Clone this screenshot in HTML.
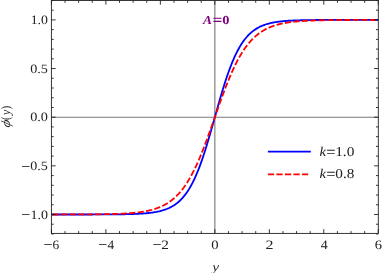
<!DOCTYPE html><html><head><meta charset="utf-8"><style>html,body{margin:0;padding:0;background:#fff;overflow:hidden}svg{display:block;will-change:transform;text-rendering:geometricPrecision}text{font-family:"Liberation Serif",serif;fill:#222}</style></head><body>
<svg width="382" height="273" viewBox="0 0 382 273">
<line x1="51.40" y1="117.20" x2="378.30" y2="117.20" stroke="#777" stroke-width="1.1"/>
<line x1="214.85" y1="0.50" x2="214.85" y2="233.40" stroke="#777" stroke-width="1.1"/>
<path d="M51.41,214.50 L52.23,214.50 L53.04,214.50 L53.86,214.50 L54.68,214.50 L55.50,214.50 L56.31,214.50 L57.13,214.50 L57.95,214.50 L58.76,214.50 L59.58,214.50 L60.40,214.50 L61.22,214.50 L62.03,214.50 L62.85,214.50 L63.67,214.50 L64.49,214.50 L65.30,214.50 L66.12,214.50 L66.94,214.50 L67.75,214.50 L68.57,214.50 L69.39,214.50 L70.21,214.50 L71.02,214.49 L71.84,214.49 L72.66,214.49 L73.47,214.49 L74.29,214.49 L75.11,214.49 L75.93,214.49 L76.74,214.49 L77.56,214.49 L78.38,214.49 L79.19,214.49 L80.01,214.49 L80.83,214.49 L81.65,214.49 L82.46,214.49 L83.28,214.49 L84.10,214.49 L84.92,214.49 L85.73,214.49 L86.55,214.48 L87.37,214.48 L88.18,214.48 L89.00,214.48 L89.82,214.48 L90.64,214.48 L91.45,214.48 L92.27,214.48 L93.09,214.47 L93.90,214.47 L94.72,214.47 L95.54,214.47 L96.36,214.47 L97.17,214.47 L97.99,214.46 L98.81,214.46 L99.62,214.46 L100.44,214.46 L101.26,214.45 L102.08,214.45 L102.89,214.45 L103.71,214.44 L104.53,214.44 L105.35,214.44 L106.16,214.43 L106.98,214.43 L107.80,214.42 L108.61,214.42 L109.43,214.42 L110.25,214.41 L111.07,214.40 L111.88,214.40 L112.70,214.39 L113.52,214.39 L114.33,214.38 L115.15,214.37 L115.97,214.36 L116.79,214.35 L117.60,214.35 L118.42,214.34 L119.24,214.33 L120.05,214.32 L120.87,214.30 L121.69,214.29 L122.51,214.28 L123.32,214.27 L124.14,214.25 L124.96,214.24 L125.78,214.22 L126.59,214.20 L127.41,214.18 L128.23,214.16 L129.04,214.14 L129.86,214.12 L130.68,214.10 L131.50,214.07 L132.31,214.05 L133.13,214.02 L133.95,213.99 L134.76,213.96 L135.58,213.92 L136.40,213.89 L137.22,213.85 L138.03,213.81 L138.85,213.77 L139.67,213.72 L140.48,213.68 L141.30,213.63 L142.12,213.57 L142.94,213.51 L143.75,213.45 L144.57,213.39 L145.39,213.32 L146.21,213.25 L147.02,213.17 L147.84,213.09 L148.66,213.00 L149.47,212.91 L150.29,212.81 L151.11,212.71 L151.93,212.60 L152.74,212.49 L153.56,212.36 L154.38,212.23 L155.19,212.09 L156.01,211.95 L156.83,211.79 L157.65,211.62 L158.46,211.45 L159.28,211.26 L160.10,211.07 L160.91,210.86 L161.73,210.64 L162.55,210.41 L163.37,210.16 L164.18,209.90 L165.00,209.62 L165.82,209.32 L166.64,209.01 L167.45,208.68 L168.27,208.34 L169.09,207.97 L169.90,207.58 L170.72,207.17 L171.54,206.73 L172.36,206.27 L173.17,205.78 L173.99,205.27 L174.81,204.73 L175.62,204.16 L176.44,203.55 L177.26,202.92 L178.08,202.25 L178.89,201.54 L179.71,200.79 L180.53,200.01 L181.34,199.18 L182.16,198.31 L182.98,197.40 L183.80,196.44 L184.61,195.44 L185.43,194.38 L186.25,193.27 L187.07,192.11 L187.88,190.89 L188.70,189.62 L189.52,188.29 L190.33,186.90 L191.15,185.44 L191.97,183.93 L192.79,182.35 L193.60,180.71 L194.42,179.00 L195.24,177.23 L196.05,175.38 L196.87,173.47 L197.69,171.50 L198.51,169.45 L199.32,167.34 L200.14,165.17 L200.96,162.93 L201.77,160.62 L202.59,158.25 L203.41,155.82 L204.23,153.33 L205.04,150.79 L205.86,148.19 L206.68,145.54 L207.50,142.85 L208.31,140.11 L209.13,137.34 L209.95,134.53 L210.76,131.69 L211.58,128.82 L212.40,125.93 L213.22,123.03 L214.03,120.12 L214.85,117.20 L215.67,114.28 L216.48,111.37 L217.30,108.47 L218.12,105.58 L218.94,102.71 L219.75,99.87 L220.57,97.06 L221.39,94.29 L222.20,91.55 L223.02,88.86 L223.84,86.21 L224.66,83.61 L225.47,81.07 L226.29,78.58 L227.11,76.15 L227.93,73.78 L228.74,71.47 L229.56,69.23 L230.38,67.06 L231.19,64.95 L232.01,62.90 L232.83,60.93 L233.65,59.02 L234.46,57.17 L235.28,55.40 L236.10,53.69 L236.91,52.05 L237.73,50.47 L238.55,48.96 L239.37,47.50 L240.18,46.11 L241.00,44.78 L241.82,43.51 L242.63,42.29 L243.45,41.13 L244.27,40.02 L245.09,38.96 L245.90,37.96 L246.72,37.00 L247.54,36.09 L248.36,35.22 L249.17,34.39 L249.99,33.61 L250.81,32.86 L251.62,32.15 L252.44,31.48 L253.26,30.85 L254.08,30.24 L254.89,29.67 L255.71,29.13 L256.53,28.62 L257.34,28.13 L258.16,27.67 L258.98,27.23 L259.80,26.82 L260.61,26.43 L261.43,26.06 L262.25,25.72 L263.06,25.39 L263.88,25.08 L264.70,24.78 L265.52,24.50 L266.33,24.24 L267.15,23.99 L267.97,23.76 L268.79,23.54 L269.60,23.33 L270.42,23.14 L271.24,22.95 L272.05,22.78 L272.87,22.61 L273.69,22.45 L274.51,22.31 L275.32,22.17 L276.14,22.04 L276.96,21.91 L277.77,21.80 L278.59,21.69 L279.41,21.59 L280.23,21.49 L281.04,21.40 L281.86,21.31 L282.68,21.23 L283.49,21.15 L284.31,21.08 L285.13,21.01 L285.95,20.95 L286.76,20.89 L287.58,20.83 L288.40,20.77 L289.22,20.72 L290.03,20.68 L290.85,20.63 L291.67,20.59 L292.48,20.55 L293.30,20.51 L294.12,20.48 L294.94,20.44 L295.75,20.41 L296.57,20.38 L297.39,20.35 L298.20,20.33 L299.02,20.30 L299.84,20.28 L300.66,20.26 L301.47,20.24 L302.29,20.22 L303.11,20.20 L303.92,20.18 L304.74,20.16 L305.56,20.15 L306.38,20.13 L307.19,20.12 L308.01,20.11 L308.83,20.10 L309.65,20.08 L310.46,20.07 L311.28,20.06 L312.10,20.05 L312.91,20.05 L313.73,20.04 L314.55,20.03 L315.37,20.02 L316.18,20.01 L317.00,20.01 L317.82,20.00 L318.63,20.00 L319.45,19.99 L320.27,19.98 L321.09,19.98 L321.90,19.98 L322.72,19.97 L323.54,19.97 L324.35,19.96 L325.17,19.96 L325.99,19.96 L326.81,19.95 L327.62,19.95 L328.44,19.95 L329.26,19.94 L330.08,19.94 L330.89,19.94 L331.71,19.94 L332.53,19.93 L333.34,19.93 L334.16,19.93 L334.98,19.93 L335.80,19.93 L336.61,19.93 L337.43,19.92 L338.25,19.92 L339.06,19.92 L339.88,19.92 L340.70,19.92 L341.52,19.92 L342.33,19.92 L343.15,19.92 L343.97,19.91 L344.78,19.91 L345.60,19.91 L346.42,19.91 L347.24,19.91 L348.05,19.91 L348.87,19.91 L349.69,19.91 L350.51,19.91 L351.32,19.91 L352.14,19.91 L352.96,19.91 L353.77,19.91 L354.59,19.91 L355.41,19.91 L356.23,19.91 L357.04,19.91 L357.86,19.91 L358.68,19.91 L359.49,19.90 L360.31,19.90 L361.13,19.90 L361.95,19.90 L362.76,19.90 L363.58,19.90 L364.40,19.90 L365.21,19.90 L366.03,19.90 L366.85,19.90 L367.67,19.90 L368.48,19.90 L369.30,19.90 L370.12,19.90 L370.94,19.90 L371.75,19.90 L372.57,19.90 L373.39,19.90 L374.20,19.90 L375.02,19.90 L375.84,19.90 L376.66,19.90 L377.47,19.90 L378.29,19.90" fill="none" stroke="#0000ff" stroke-width="1.8" stroke-linejoin="round"/>
<path d="M51.41,214.49 L52.23,214.49 L53.04,214.49 L53.86,214.48 L54.68,214.48 L55.50,214.48 L56.31,214.48 L57.13,214.48 L57.95,214.48 L58.76,214.48 L59.58,214.48 L60.40,214.48 L61.22,214.48 L62.03,214.48 L62.85,214.47 L63.67,214.47 L64.49,214.47 L65.30,214.47 L66.12,214.47 L66.94,214.47 L67.75,214.47 L68.57,214.46 L69.39,214.46 L70.21,214.46 L71.02,214.46 L71.84,214.46 L72.66,214.45 L73.47,214.45 L74.29,214.45 L75.11,214.45 L75.93,214.44 L76.74,214.44 L77.56,214.44 L78.38,214.44 L79.19,214.43 L80.01,214.43 L80.83,214.43 L81.65,214.42 L82.46,214.42 L83.28,214.41 L84.10,214.41 L84.92,214.41 L85.73,214.40 L86.55,214.40 L87.37,214.39 L88.18,214.39 L89.00,214.38 L89.82,214.37 L90.64,214.37 L91.45,214.36 L92.27,214.35 L93.09,214.35 L93.90,214.34 L94.72,214.33 L95.54,214.32 L96.36,214.32 L97.17,214.31 L97.99,214.30 L98.81,214.29 L99.62,214.28 L100.44,214.27 L101.26,214.25 L102.08,214.24 L102.89,214.23 L103.71,214.22 L104.53,214.20 L105.35,214.19 L106.16,214.17 L106.98,214.16 L107.80,214.14 L108.61,214.12 L109.43,214.10 L110.25,214.08 L111.07,214.06 L111.88,214.04 L112.70,214.02 L113.52,214.00 L114.33,213.97 L115.15,213.94 L115.97,213.92 L116.79,213.89 L117.60,213.86 L118.42,213.83 L119.24,213.79 L120.05,213.76 L120.87,213.72 L121.69,213.69 L122.51,213.65 L123.32,213.60 L124.14,213.56 L124.96,213.51 L125.78,213.47 L126.59,213.42 L127.41,213.36 L128.23,213.31 L129.04,213.25 L129.86,213.19 L130.68,213.12 L131.50,213.06 L132.31,212.99 L133.13,212.91 L133.95,212.83 L134.76,212.75 L135.58,212.67 L136.40,212.58 L137.22,212.49 L138.03,212.39 L138.85,212.28 L139.67,212.18 L140.48,212.06 L141.30,211.95 L142.12,211.82 L142.94,211.69 L143.75,211.56 L144.57,211.41 L145.39,211.26 L146.21,211.11 L147.02,210.94 L147.84,210.77 L148.66,210.59 L149.47,210.41 L150.29,210.21 L151.11,210.00 L151.93,209.79 L152.74,209.56 L153.56,209.32 L154.38,209.08 L155.19,208.82 L156.01,208.55 L156.83,208.26 L157.65,207.97 L158.46,207.66 L159.28,207.33 L160.10,206.99 L160.91,206.64 L161.73,206.27 L162.55,205.88 L163.37,205.48 L164.18,205.06 L165.00,204.62 L165.82,204.16 L166.64,203.68 L167.45,203.18 L168.27,202.65 L169.09,202.11 L169.90,201.54 L170.72,200.95 L171.54,200.33 L172.36,199.68 L173.17,199.01 L173.99,198.31 L174.81,197.59 L175.62,196.83 L176.44,196.05 L177.26,195.23 L178.08,194.38 L178.89,193.50 L179.71,192.58 L180.53,191.63 L181.34,190.64 L182.16,189.62 L182.98,188.56 L183.80,187.46 L184.61,186.32 L185.43,185.15 L186.25,183.93 L187.07,182.67 L187.88,181.37 L188.70,180.03 L189.52,178.65 L190.33,177.23 L191.15,175.76 L191.97,174.25 L192.79,172.69 L193.60,171.10 L194.42,169.45 L195.24,167.77 L196.05,166.05 L196.87,164.28 L197.69,162.47 L198.51,160.62 L199.32,158.73 L200.14,156.80 L200.96,154.83 L201.77,152.83 L202.59,150.79 L203.41,148.72 L204.23,146.61 L205.04,144.47 L205.86,142.31 L206.68,140.11 L207.50,137.90 L208.31,135.66 L209.13,133.39 L209.95,131.12 L210.76,128.82 L211.58,126.51 L212.40,124.19 L213.22,121.87 L214.03,119.53 L214.85,117.20 L215.67,114.87 L216.48,112.53 L217.30,110.21 L218.12,107.89 L218.94,105.58 L219.75,103.28 L220.57,101.01 L221.39,98.74 L222.20,96.50 L223.02,94.29 L223.84,92.09 L224.66,89.93 L225.47,87.79 L226.29,85.68 L227.11,83.61 L227.93,81.57 L228.74,79.57 L229.56,77.60 L230.38,75.67 L231.19,73.78 L232.01,71.93 L232.83,70.12 L233.65,68.35 L234.46,66.63 L235.28,64.95 L236.10,63.30 L236.91,61.71 L237.73,60.15 L238.55,58.64 L239.37,57.17 L240.18,55.75 L241.00,54.37 L241.82,53.03 L242.63,51.73 L243.45,50.47 L244.27,49.25 L245.09,48.08 L245.90,46.94 L246.72,45.84 L247.54,44.78 L248.36,43.76 L249.17,42.77 L249.99,41.82 L250.81,40.90 L251.62,40.02 L252.44,39.17 L253.26,38.35 L254.08,37.57 L254.89,36.81 L255.71,36.09 L256.53,35.39 L257.34,34.72 L258.16,34.07 L258.98,33.45 L259.80,32.86 L260.61,32.29 L261.43,31.75 L262.25,31.22 L263.06,30.72 L263.88,30.24 L264.70,29.78 L265.52,29.34 L266.33,28.92 L267.15,28.52 L267.97,28.13 L268.79,27.76 L269.60,27.41 L270.42,27.07 L271.24,26.74 L272.05,26.43 L272.87,26.14 L273.69,25.85 L274.51,25.58 L275.32,25.32 L276.14,25.08 L276.96,24.84 L277.77,24.61 L278.59,24.40 L279.41,24.19 L280.23,23.99 L281.04,23.81 L281.86,23.63 L282.68,23.46 L283.49,23.29 L284.31,23.14 L285.13,22.99 L285.95,22.84 L286.76,22.71 L287.58,22.58 L288.40,22.45 L289.22,22.34 L290.03,22.22 L290.85,22.12 L291.67,22.01 L292.48,21.91 L293.30,21.82 L294.12,21.73 L294.94,21.65 L295.75,21.57 L296.57,21.49 L297.39,21.41 L298.20,21.34 L299.02,21.28 L299.84,21.21 L300.66,21.15 L301.47,21.09 L302.29,21.04 L303.11,20.98 L303.92,20.93 L304.74,20.89 L305.56,20.84 L306.38,20.80 L307.19,20.75 L308.01,20.71 L308.83,20.68 L309.65,20.64 L310.46,20.61 L311.28,20.57 L312.10,20.54 L312.91,20.51 L313.73,20.48 L314.55,20.46 L315.37,20.43 L316.18,20.40 L317.00,20.38 L317.82,20.36 L318.63,20.34 L319.45,20.32 L320.27,20.30 L321.09,20.28 L321.90,20.26 L322.72,20.24 L323.54,20.23 L324.35,20.21 L325.17,20.20 L325.99,20.18 L326.81,20.17 L327.62,20.16 L328.44,20.15 L329.26,20.13 L330.08,20.12 L330.89,20.11 L331.71,20.10 L332.53,20.09 L333.34,20.08 L334.16,20.08 L334.98,20.07 L335.80,20.06 L336.61,20.05 L337.43,20.05 L338.25,20.04 L339.06,20.03 L339.88,20.03 L340.70,20.02 L341.52,20.01 L342.33,20.01 L343.15,20.00 L343.97,20.00 L344.78,19.99 L345.60,19.99 L346.42,19.99 L347.24,19.98 L348.05,19.98 L348.87,19.97 L349.69,19.97 L350.51,19.97 L351.32,19.96 L352.14,19.96 L352.96,19.96 L353.77,19.96 L354.59,19.95 L355.41,19.95 L356.23,19.95 L357.04,19.95 L357.86,19.94 L358.68,19.94 L359.49,19.94 L360.31,19.94 L361.13,19.94 L361.95,19.93 L362.76,19.93 L363.58,19.93 L364.40,19.93 L365.21,19.93 L366.03,19.93 L366.85,19.93 L367.67,19.92 L368.48,19.92 L369.30,19.92 L370.12,19.92 L370.94,19.92 L371.75,19.92 L372.57,19.92 L373.39,19.92 L374.20,19.92 L375.02,19.92 L375.84,19.92 L376.66,19.91 L377.47,19.91 L378.29,19.91" fill="none" stroke="#ff0000" stroke-width="1.8" stroke-dasharray="6.2 2.317" stroke-dashoffset="-1.163" stroke-linejoin="round"/>
<path d="M51.41,233.40v-4.20M51.41,0.50v4.20M65.03,233.40v-2.30M65.03,0.50v2.30M78.65,233.40v-2.30M78.65,0.50v2.30M92.27,233.40v-2.30M92.27,0.50v2.30M105.89,233.40v-4.20M105.89,0.50v4.20M119.51,233.40v-2.30M119.51,0.50v2.30M133.13,233.40v-2.30M133.13,0.50v2.30M146.75,233.40v-2.30M146.75,0.50v2.30M160.37,233.40v-4.20M160.37,0.50v4.20M173.99,233.40v-2.30M173.99,0.50v2.30M187.61,233.40v-2.30M187.61,0.50v2.30M201.23,233.40v-2.30M201.23,0.50v2.30M214.85,233.40v-4.20M214.85,0.50v4.20M228.47,233.40v-2.30M228.47,0.50v2.30M242.09,233.40v-2.30M242.09,0.50v2.30M255.71,233.40v-2.30M255.71,0.50v2.30M269.33,233.40v-4.20M269.33,0.50v4.20M282.95,233.40v-2.30M282.95,0.50v2.30M296.57,233.40v-2.30M296.57,0.50v2.30M310.19,233.40v-2.30M310.19,0.50v2.30M323.81,233.40v-4.20M323.81,0.50v4.20M337.43,233.40v-2.30M337.43,0.50v2.30M351.05,233.40v-2.30M351.05,0.50v2.30M364.67,233.40v-2.30M364.67,0.50v2.30M378.29,233.40v-4.20M378.29,0.50v4.20M51.40,233.96h2.30M378.30,233.96h-2.30M51.40,224.23h2.30M378.30,224.23h-2.30M51.40,214.50h4.20M378.30,214.50h-4.20M51.40,204.77h2.30M378.30,204.77h-2.30M51.40,195.04h2.30M378.30,195.04h-2.30M51.40,185.31h2.30M378.30,185.31h-2.30M51.40,175.58h2.30M378.30,175.58h-2.30M51.40,165.85h4.20M378.30,165.85h-4.20M51.40,156.12h2.30M378.30,156.12h-2.30M51.40,146.39h2.30M378.30,146.39h-2.30M51.40,136.66h2.30M378.30,136.66h-2.30M51.40,126.93h2.30M378.30,126.93h-2.30M51.40,117.20h4.20M378.30,117.20h-4.20M51.40,107.47h2.30M378.30,107.47h-2.30M51.40,97.74h2.30M378.30,97.74h-2.30M51.40,88.01h2.30M378.30,88.01h-2.30M51.40,78.28h2.30M378.30,78.28h-2.30M51.40,68.55h4.20M378.30,68.55h-4.20M51.40,58.82h2.30M378.30,58.82h-2.30M51.40,49.09h2.30M378.30,49.09h-2.30M51.40,39.36h2.30M378.30,39.36h-2.30M51.40,29.63h2.30M378.30,29.63h-2.30M51.40,19.90h4.20M378.30,19.90h-4.20M51.40,10.17h2.30M378.30,10.17h-2.30M51.40,0.44h2.30M378.30,0.44h-2.30" stroke="#111" stroke-width="0.85" fill="none"/>
<rect x="51.40" y="0.50" width="326.90" height="232.90" fill="none" stroke="#222" stroke-width="0.9"/>
<text transform="translate(43.60,250.47) scale(1.2592,1.3)" font-size="12.80">−</text><text transform="translate(52.53,248.70) scale(1.0423,1)" font-size="12.80">6</text>
<text transform="translate(98.30,250.47) scale(1.2592,1.3)" font-size="12.80">−</text><text transform="translate(107.54,248.70) scale(1.0420,1)" font-size="12.80">4</text>
<text transform="translate(152.40,250.47) scale(1.2592,1.3)" font-size="12.80">−</text><text transform="translate(161.23,248.70) scale(1.1888,1)" font-size="12.80">2</text>
<text transform="translate(211.34,248.70) scale(1.1429,1)" font-size="12.80">0</text>
<text transform="translate(265.60,248.70) scale(1.2473,1)" font-size="12.80">2</text>
<text transform="translate(320.63,248.70) scale(1.0924,1)" font-size="12.80">4</text>
<text transform="translate(374.68,248.70) scale(1.1337,1)" font-size="12.80">6</text>
<text transform="translate(30.69,24.00) scale(1.0773,1)" font-size="12.80">1.0</text>
<text transform="translate(30.16,72.65) scale(1.1057,1)" font-size="12.80">0.5</text>
<text transform="translate(30.16,121.30) scale(1.1115,1)" font-size="12.80">0.0</text>
<text transform="translate(21.30,171.72) scale(1.2592,1.3)" font-size="12.80">−</text><text transform="translate(30.26,169.95) scale(1.0991,1)" font-size="12.80">0.5</text>
<text transform="translate(21.30,220.38) scale(1.2592,1.3)" font-size="12.80">−</text><text transform="translate(30.47,218.60) scale(1.0912,1)" font-size="12.80">1.0</text>
<text transform="translate(212.2,270.8) scale(1.2,1)" font-size="12.80" font-style="italic">y</text>
<g transform="translate(10,0) rotate(-90)">
<text transform="translate(-127.93,0.00) skewX(-14) scale(1.1275,1)" font-size="12.80"><tspan font-style="italic">ϕ</tspan></text>
<text transform="translate(-119.94,0.00) scale(0.7909,1)" font-size="12.80">(</text>
<text transform="translate(-115.12,0.00) scale(0.9177,1)" font-size="12.80"><tspan font-style="italic">y</tspan></text>
<text transform="translate(-109.33,0.00) scale(0.7909,1)" font-size="12.80">)</text>
</g>
<g style="fill:#800080">
<text transform="translate(202.99,23.80) scale(1.0916,1)" font-size="12.30" style="fill:#800080"><tspan font-weight="bold" font-style="italic">A</tspan></text>
<text transform="translate(212.53,25.20) scale(1.4167,1.26)" font-size="12.30" style="fill:#800080"><tspan font-weight="bold">=</tspan></text>
<text transform="translate(222.25,23.80) scale(1.1701,1)" font-size="12.30" style="fill:#800080"><tspan font-weight="bold">0</tspan></text>
</g>
<line x1="267.9" y1="151.7" x2="310.8" y2="151.7" stroke="#0000ff" stroke-width="1.8"/>
<line x1="267.9" y1="174.3" x2="310.0" y2="174.3" stroke="#ff0000" stroke-width="1.8" stroke-dasharray="6.2 2.317"/>
<text transform="translate(319.58,155.50) scale(1.0942,1)" font-size="13.40"><tspan font-style="italic">k</tspan></text>
<text transform="translate(326.18,157.00) scale(1.2928,1.22)" font-size="12.80">=</text>
<text transform="translate(335.15,155.50) scale(1.1317,1)" font-size="13.60">1.0</text>
<text transform="translate(319.58,177.90) scale(1.0942,1)" font-size="13.40"><tspan font-style="italic">k</tspan></text>
<text transform="translate(326.18,179.40) scale(1.2928,1.22)" font-size="12.80">=</text>
<text transform="translate(335.32,177.90) scale(1.1213,1)" font-size="13.60">0.8</text>
</svg></body></html>
